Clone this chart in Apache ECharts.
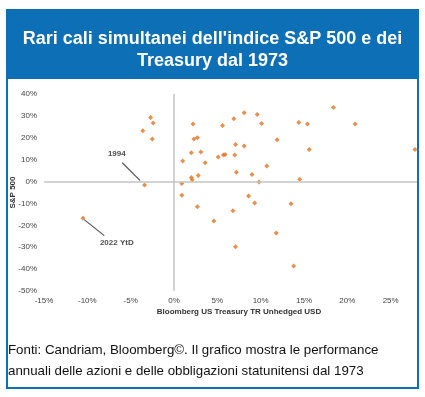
<!DOCTYPE html>
<html>
<head>
<meta charset="utf-8">
<script src="https://cdn.jsdelivr.net/npm/echarts@6/dist/echarts.min.js"></script>
<style>
html, body { margin: 0; padding: 0; background: #fff; }
#main { width: 425px; height: 397px; }
</style>
</head>
<body>
<div id="main"></div>
<script>
// annual returns: [US Treasury %, S&P 500 %]
var treasury = [-2.7, -2.4, -3.6, -2.5, -3.4, -10.5, 2.2, 2.3, 2.7, 2.0,
                3.1, 1.0, 3.6, 5.1, 5.7, 5.9, 7.0, 5.6, 6.9, 8.1,
                9.6, 10.1, 11.9, 7.1, 8.1, 7.2, 9.0, 10.7, 9.8, 0.9,
                2.0, 2.1, 2.8, 14.4, 15.4, 18.4, 20.9, 15.6, 27.8, 14.5,
                0.9, 2.7, 8.6, 9.3, 13.5, 6.8, 4.6, 11.8, 7.1, 13.8];
var sp500 = [29.3, 26.7, 23.2, 19.4, -1.6, -16.8, 26.3, 19.4, 20.0, 13.2,
             13.5, 9.4, 8.6, 11.2, 12.1, 12.4, 12.1, 25.6, 28.7, 31.4,
             30.6, 26.5, 19.1, 16.9, 16.2, 4.3, 3.2, 7.1, -0.2, -0.9,
             1.9, 0.8, 2.8, 27.0, 26.3, 33.8, 26.3, 14.7, 14.7, 1.1,
             -6.3, -11.5, -6.6, -9.8, -10.1, -13.3, -18.0, -23.5, -29.8, -38.6];

var noteNames = ['1994', '2022 YtD'];
var noteText = [[-6.6, 12.7], [-6.6, -28.1]];
var noteFrom = [[-5.97, 8.6], [-10.36, -17.4]];
var noteTo = [[-3.9, 0.4], [-8.05, -24.7]];

var xTicks = {min: -15, max: 30, interval: 5};
var yTicks = {min: -50, max: 40, interval: 10};

var blue = '#0d6fb5';
var points = treasury.map(function (t, i) { return [t, sp500[i]]; });

var chart = echarts.init(document.getElementById('main'));
chart.setOption({
    animation: false,
    title: {
        text: "Rari cali simultanei dell'indice S&P 500 e dei\nTreasury dal 1973",
        left: 'center',
        top: 23,
        textStyle: {
            color: '#fff',
            fontFamily: 'Liberation Sans, Arial',
            fontWeight: 'bold',
            fontSize: 18,
            lineHeight: 22
        }
    },
    grid: { left: 44, right: -9, top: 94, bottom: 106, outerBoundsMode: 'none', containLabel: false },
    xAxis: {
        type: 'value',
        min: xTicks.min, max: xTicks.max, interval: xTicks.interval,
        name: 'Bloomberg US Treasury TR Unhedged USD',
        nameLocation: 'middle',
        nameGap: 17,
        nameTextStyle: { fontFamily: 'Liberation Sans, Arial', fontWeight: 'bold', fontSize: 8, color: '#333' },
        axisLine: { show: false },
        axisTick: { show: false },
        splitLine: { show: false },
        axisLabel: {
            margin: 6,
            fontFamily: 'Liberation Sans, Arial', fontSize: 8, color: '#444',
            formatter: function (v) { return v + '%'; }
        }
    },
    yAxis: {
        type: 'value',
        min: yTicks.min, max: yTicks.max, interval: yTicks.interval,
        name: 'S&P 500',
        nameLocation: 'middle',
        nameGap: 27,
        nameMoveOverlap: false,
        nameTextStyle: { fontFamily: 'Liberation Sans, Arial', fontWeight: 'bold', fontSize: 8, color: '#333' },
        axisLine: { show: false },
        axisTick: { show: false },
        splitLine: { show: false },
        axisLabel: {
            margin: 7,
            fontFamily: 'Liberation Sans, Arial', fontSize: 8, color: '#444',
            formatter: function (v) { return v + '%'; }
        }
    },
    series: [
        {
            type: 'scatter',
            data: points,
            symbol: 'diamond',
            symbolSize: 5,
            itemStyle: { color: '#e4731f' },
            z: 3,
            markLine: {
                silent: true,
                symbol: 'none',
                label: { show: false },
                lineStyle: { color: '#c4c4c4', type: 'solid', width: 1.5 },
                data: [{ xAxis: 0 }, { yAxis: 0 }]
            }
        },
        {
            type: 'scatter',
            symbolSize: 0,
            data: noteNames.map(function (n, i) { return { name: n, value: noteText[i] }; }),
            label: {
                show: true,
                position: 'inside',
                formatter: '{b}',
                fontFamily: 'Liberation Sans, Arial',
                fontWeight: 'bold',
                fontSize: 8,
                color: '#222'
            },
            markLine: {
                silent: true,
                symbol: 'none',
                label: { show: false },
                lineStyle: { color: '#555', type: 'solid', width: 1.2 },
                data: noteNames.map(function (n, i) {
                    return [{ coord: noteFrom[i] }, { coord: noteTo[i] }];
                })
            }
        }
    ],
    graphic: [
        { type: 'rect', shape: { x: 6, y: 10, width: 413, height: 69 }, style: { fill: blue }, z: -1 },
        { type: 'rect', shape: { x: 419, y: 0, width: 6, height: 397 }, style: { fill: '#fff' }, z: 100 },
        { type: 'rect', shape: { x: 7, y: 10, width: 411, height: 378 }, style: { fill: 'none', stroke: blue, lineWidth: 2 }, z: 101 },
        {
            type: 'text', left: 8, top: 340, z: 102,
            style: {
                text: 'Fonti: Candriam, Bloomberg©. Il grafico mostra le performance\nannuali delle azioni e delle obbligazioni statunitensi dal 1973',
                font: '13.3px Liberation Sans, Arial',
                lineHeight: 21,
                fill: '#111'
            }
        }
    ]
});
</script>
</body>
</html>
